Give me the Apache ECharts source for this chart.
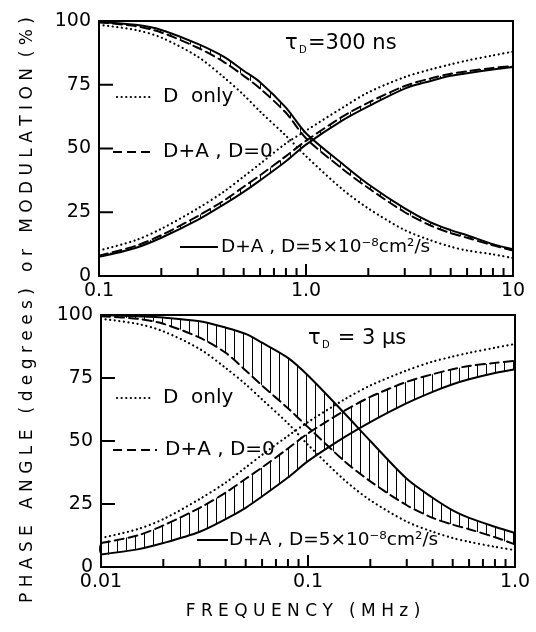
<!DOCTYPE html>
<html lang="en">
<head>
<meta charset="UTF-8">
<script src="https://cdn.jsdelivr.net/npm/echarts@6.0.0/dist/echarts.min.js"></script>
</head>
<body style="margin:0;background:#fff;">
<div id="chart" style="width:536px;height:632px;"></div>
<script>
// frequencies (MHz)
var freqTop = [0.1, 0.15, 0.2, 0.3, 0.4, 0.5, 0.6, 0.8, 1, 1.5, 2, 3, 4, 5, 6, 8, 10];
var freqBottom = [0.01, 0.015, 0.02, 0.03, 0.04, 0.05, 0.06, 0.08, 0.1, 0.15, 0.2, 0.3, 0.4, 0.5, 0.6, 0.8, 1];

// tau_D = 300 ns
var onlyPhaseTop = [10, 14, 18.5, 26.5, 33, 39, 44, 52, 57, 66, 72, 78, 81, 83, 84.5, 86.5, 88];
var onlyModTop = [98.5, 96.5, 93.5, 86, 78, 71, 64.5, 55, 47, 34, 26.5, 18, 14, 11.5, 10, 8.5, 7];
var zeroPhaseTop = [8, 11.8, 16, 23.5, 29.5, 35, 39.5, 47, 53, 62.5, 68, 74.5, 77.5, 79.3, 80.3, 81.6, 82.4];
var zeroModTop = [99.5, 98, 95.5, 89.5, 84, 78.5, 73.5, 64, 54, 42, 34.5, 25, 19.8, 16.8, 15, 12, 10];
var diffPhaseTop = [7.5, 11, 15, 22, 28, 33, 37.5, 45, 51.5, 61, 66.5, 73.5, 76.5, 78.5, 79.5, 81, 82];
var diffModTop = [99.5, 98.5, 96.5, 91, 86, 80.5, 76, 66, 56, 44, 36, 26.5, 21, 18, 16, 12.5, 10.5];

// tau_D = 3 us
var onlyPhaseBottom = [11.5, 15, 19, 27, 33.5, 39.5, 44.5, 52, 57.5, 66.5, 72, 78, 81.5, 83.5, 85, 87, 88.5];
var onlyModBottom = [98.5, 96.5, 93.5, 86.5, 79, 72.5, 66.5, 57, 48.5, 34.5, 26.5, 18, 14, 11.5, 10, 8, 6.7];
var zeroPhaseBottom = [9.5, 12.5, 16.5, 23.5, 29.5, 35, 39.5, 47, 53, 62, 67.5, 73.5, 76.5, 78.5, 79.8, 81, 81.8];
var zeroModBottom = [99.5, 98.5, 96.5, 91, 85, 78, 72, 63, 55.5, 42, 34, 24.5, 19.5, 16.8, 15, 11.8, 9];
var diffPhaseBottom = [5, 7, 9.5, 14, 19, 23.5, 28, 35.5, 42, 51.5, 57.5, 65, 69.5, 72.5, 74.5, 77, 78.5];
var diffModBottom = [100, 99.5, 99, 97.5, 95, 92.5, 89, 83, 76, 61, 50, 35, 27.5, 22.5, 19.5, 16, 13.5];

var xLabelsTop = ['0.1', '1.0', '10'];
var xLabelsBottom = ['0.01', '0.1', '1.0'];
var ticksTop = [0.2, 0.3, 0.4, 0.5, 0.6, 0.7, 0.8, 0.9, 1, 2, 3, 4, 5, 6, 7, 8, 9];
var ticksBottom = [0.02, 0.03, 0.04, 0.05, 0.06, 0.07, 0.08, 0.09, 0.1, 0.2, 0.3, 0.4, 0.5, 0.6, 0.7, 0.8, 0.9];
var majorTicks = [1, 0.1];
var yTicks = [25, 50, 75];

var font = 'DejaVu Sans';
var chart = echarts.init(document.getElementById('chart'));

function pairs(xs, ys) {
    return xs.map(function (x, i) { return [x, ys[i]]; });
}

function stripes(step) {
    var c = document.createElement('canvas');
    c.width = step; c.height = 4;
    var ctx = c.getContext('2d');
    ctx.fillStyle = '#000';
    ctx.fillRect(0, 0, 1, 4);
    return c;
}

function curve(xs, ys, idx, dash, width) {
    return {
        type: 'line', xAxisIndex: idx, yAxisIndex: idx, data: pairs(xs, ys),
        showSymbol: false, smooth: 0.3, silent: true, z: 3,
        lineStyle: { color: '#000', width: width, type: dash, cap: 'round' }
    };
}

// vertical hatching between the D=0 and the diffusion curves
function hatch(xs, a, b, idx, step) {
    var pattern = { image: stripes(step), repeat: 'repeat' };
    return {
        type: 'custom', xAxisIndex: idx, yAxisIndex: idx, silent: true, z: 2,
        data: [[xs[0], a[0]]],
        renderItem: function (params, api) {
            var pts = xs.map(function (x, i) { return api.coord([x, a[i]]); });
            for (var i = xs.length - 1; i >= 0; i--) pts.push(api.coord([xs[i], b[i]]));
            return { type: 'polygon', shape: { points: pts, smooth: 0.3 }, style: { fill: pattern } };
        }
    };
}

function xAxis(idx, min, max, labels) {
    return {
        type: 'log', logBase: 10, gridIndex: idx, min: min, max: max,
        axisLine: { lineStyle: { color: '#000', width: 2 } },
        axisTick: { show: false },
        splitLine: { show: false },
        axisLabel: { color: '#000', fontSize: 19, fontFamily: font, margin: 6,
                     formatter: function (v, k) { return labels[k]; } }
    };
}

function yAxis(idx) {
    return {
        type: 'value', gridIndex: idx, min: 0, max: 100, interval: 25,
        axisLine: { show: true, lineStyle: { color: '#000', width: 2 } },
        axisTick: { show: false },
        splitLine: { show: false },
        axisLabel: { color: '#000', fontSize: 19, fontFamily: font, margin: 8 }
    };
}

function txt(x, y, s, size, extra) {
    var o = { type: 'text', x: x, y: y, style: { text: s, fill: '#000', fontSize: size || 18,
              fontFamily: font, verticalAlign: 'middle' } };
    if (extra) Object.assign(o.style, extra);
    return o;
}

function seg(x1, y1, x2, y2, dash, w) {
    return { type: 'line', z: 50, shape: { x1: x1, y1: y1, x2: x2, y2: y2 },
             style: { stroke: '#000', lineWidth: w || 2, lineDash: dash || null, lineCap: dash && dash[0] < 1 ? 'round' : 'butt' } };
}

var dotted = [0.1, 4.5];
var dashed = [9, 5];

var graphics = [
    // top panel notes
    txt(285, 44, 'τ', 21), txt(299, 50, 'D', 10), txt(308, 44, '=300 ns', 21),
    seg(117, 97, 152, 97, dotted, 2.2), txt(163, 97, 'D  only', 20),
    seg(113, 152, 155, 152, dashed, 2), txt(163, 152, 'D+A , D=0', 20),
    seg(180, 247, 218, 247, null, 2), txt(221, 247, 'D+A , D=5×10⁻⁸cm²/s', 18.5),
    // bottom panel notes
    txt(308, 339, 'τ', 21), txt(322, 345, 'D', 10), txt(331, 339, ' = 3 μs', 21),
    seg(117, 398, 152, 398, dotted, 2.2), txt(163, 398, 'D  only', 20),
    seg(113, 450, 157, 450, dashed, 2), txt(165, 450, 'D+A , D=0', 20),
    seg(197, 540, 228, 540, null, 2), txt(229, 540, 'D+A , D=5×10⁻⁸cm²/s', 18.5),
    // axis titles
    txt(303, 612, 'F R E Q U E N C Y   ( M H z )', 17, { align: 'center' }),
    { type: 'text', x: 28, y: 310, rotation: Math.PI / 2,
      style: { text: 'P H A S E   A N G L E   ( d e g r e e s )   o r   M O D U L A T I O N  ( % )',
               fill: '#000', fontSize: 17, fontFamily: font, align: 'center', verticalAlign: 'middle' } }
];

chart.setOption({
    animation: false,
    grid: [
        { left: 99, top: 21, width: 414, height: 255, show: true, borderColor: '#000', borderWidth: 2 },
        { left: 101, top: 315, width: 414, height: 252, show: true, borderColor: '#000', borderWidth: 2 }
    ],
    xAxis: [xAxis(0, 0.1, 10, xLabelsTop), xAxis(1, 0.01, 1, xLabelsBottom)],
    yAxis: [yAxis(0), yAxis(1)],
    series: [
        hatch(freqTop, zeroPhaseTop, diffPhaseTop, 0, 10),
        hatch(freqTop, zeroModTop, diffModTop, 0, 10),
        hatch(freqBottom, zeroPhaseBottom, diffPhaseBottom, 1, 9),
        hatch(freqBottom, zeroModBottom, diffModBottom, 1, 9),
        curve(freqTop, onlyPhaseTop, 0, dotted, 2.2),
        curve(freqTop, onlyModTop, 0, dotted, 2.2),
        curve(freqTop, zeroPhaseTop, 0, dashed, 2),
        curve(freqTop, zeroModTop, 0, dashed, 2),
        curve(freqTop, diffPhaseTop, 0, 'solid', 2),
        curve(freqTop, diffModTop, 0, 'solid', 2),
        curve(freqBottom, onlyPhaseBottom, 1, dotted, 2.2),
        curve(freqBottom, onlyModBottom, 1, dotted, 2.2),
        curve(freqBottom, zeroPhaseBottom, 1, dashed, 2),
        curve(freqBottom, zeroModBottom, 1, dashed, 2),
        curve(freqBottom, diffPhaseBottom, 1, 'solid', 2),
        curve(freqBottom, diffModBottom, 1, 'solid', 2)
    ]
});

// inward ticks placed through the axes' own scales
[[ticksTop, 0, 0.1], [ticksBottom, 1, 0.01]].forEach(function (t) {
    var finder = { gridIndex: t[1] };
    t[0].forEach(function (f) {
        var p = chart.convertToPixel(finder, [f, 0]);
        if (!p) return;
        var len = majorTicks.indexOf(f) >= 0 ? 12 : 8;
        graphics.push(seg(p[0], p[1], p[0], p[1] - len, null, 2));
    });
    yTicks.forEach(function (v) {
        var p = chart.convertToPixel(finder, [t[2], v]);
        if (!p) return;
        graphics.push(seg(p[0], p[1], p[0] + 14, p[1], null, 2));
    });
});
chart.setOption({ graphic: graphics });
</script>
</body>
</html>
